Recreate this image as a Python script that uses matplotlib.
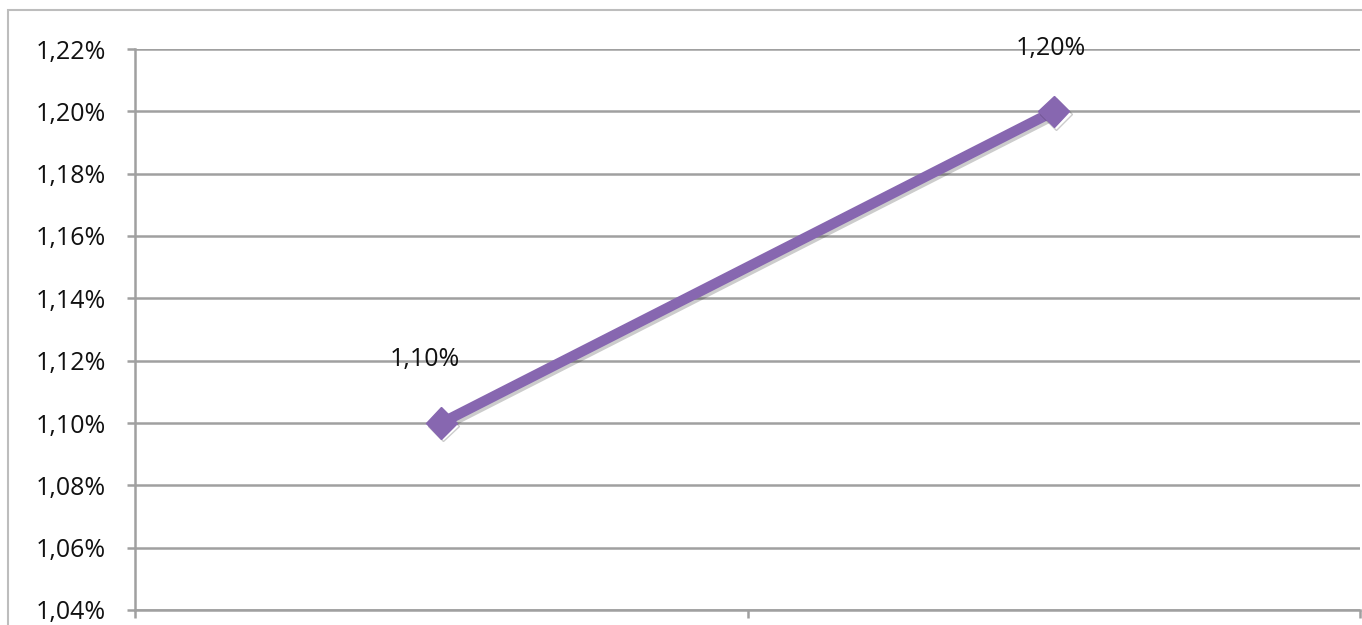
import matplotlib.pyplot as plt
import matplotlib.patheffects as pe
from matplotlib.patches import Rectangle
from matplotlib.ticker import FuncFormatter, MultipleLocator

# data (values in percent)
categories = ['A', 'B']
values = [1.10, 1.20]
labels = ['1,10%', '1,20%']

GRID = '#a0a0a0'
PURPLE = '#8767b0'

plt.rcParams['font.family'] = ['Open Sans', 'DejaVu Sans']

fig = plt.figure(figsize=(13.62, 6.25), dpi=100)
ax = fig.add_axes([135 / 1362, 1 - 610 / 625, 1225 / 1362, 561 / 625])

# outer chart border
fig.patches.append(Rectangle((8 / 1362, -0.1), 1.2, 1 - 10 / 625 + 0.1,
                             transform=fig.transFigure, fill=False,
                             edgecolor='#bdbdbd', linewidth=1.5))

x = [i + 0.5 for i in range(len(categories))]
ax.plot(x, values, color=PURPLE, linewidth=7.5, marker='D', markersize=16,
        solid_capstyle='butt', zorder=3,
        path_effects=[pe.SimpleLineShadow(offset=(1.5, -2), alpha=0.2),
                      pe.Normal()])

offsets = [(-12, 46), (-2, 45)]
for xi, v, lab, off in zip(x, values, labels, offsets):
    ax.annotate(lab, (xi, v), xytext=off, textcoords='offset points',
                ha='center', va='center', fontsize=18, color='#111111')

ax.set_xlim(0, len(categories))
ax.set_ylim(1.04, 1.22)
ax.yaxis.set_major_locator(MultipleLocator(0.02))
ax.yaxis.set_major_formatter(FuncFormatter(lambda v, p: f'{v:.2f}%'.replace('.', ',')))
ax.set_xticks(range(len(categories) + 1))
ax.set_xticklabels([])

ax.grid(axis='y', color=GRID, linewidth=1.8)
ax.set_axisbelow(True)
for s in ['top', 'right']:
    ax.spines[s].set_visible(False)
for s in ['left', 'bottom']:
    ax.spines[s].set_color(GRID)
    ax.spines[s].set_linewidth(1.8)
ax.tick_params(axis='both', color=GRID, width=1.8, length=6, direction='out')
ax.tick_params(axis='y', labelsize=18, pad=15, labelcolor='#111111')

fig.savefig('out.png', dpi=100)
